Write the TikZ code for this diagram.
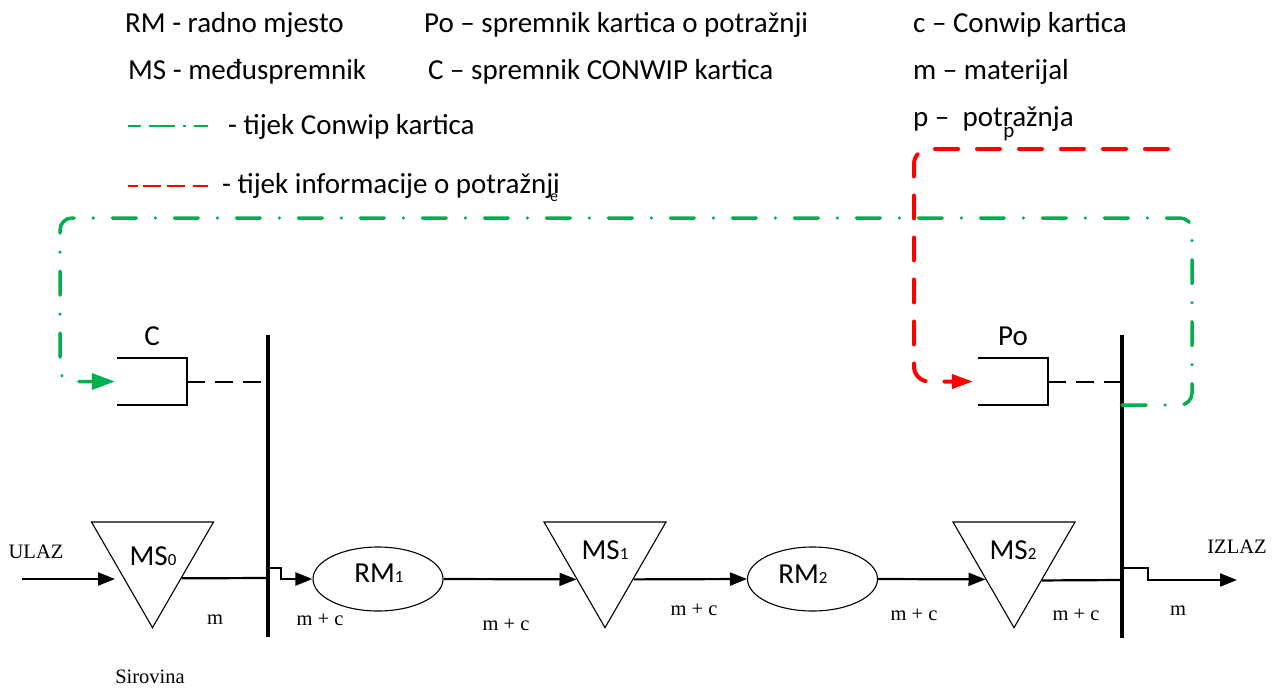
\documentclass[tikz,border=0pt]{standalone}
\usepackage{fontspec}
\setmainfont{Carlito}
\newfontfamily\serifface{Liberation Serif}
\usetikzlibrary{arrows.meta,shapes.geometric,calc}
\definecolor{cwgreen}{RGB}{0,176,80}
\definecolor{pored}{RGB}{255,0,0}

\begin{document}
\begin{tikzpicture}[x=1pt,y=-1pt,
  legendtxt/.style={anchor=base west, inner sep=0, font=\fontsize{29}{30}\selectfont},
  boxlbl/.style={inner sep=0, font=\fontsize{29}{30}\selectfont},
  flowlbl/.style={inner sep=0, font=\serifface\fontsize{20.5}{22}\selectfont},
  strayglyph/.style={inner sep=0, anchor=north},
  buffer/.style={regular polygon, regular polygon sides=3, shape border rotate=180,
    minimum size=140.9pt, inner sep=0, draw, line width=1.1pt},
  bufferlbl/.style={inner sep=0, font=\fontsize{29}{30}\selectfont},
  station/.style={ellipse, minimum width=130pt, minimum height=64pt, inner sep=0,
    draw, line width=1.1pt},
  cardbox/.style={minimum width=70pt, minimum height=47pt, inner sep=0},
  bracket/.style={line width=2pt},
  bar/.style={line width=4pt},
  matline/.style={line width=2.2pt},
  flow/.style={line width=2.2pt, -{Triangle[length=17pt,width=13pt]}},
  cardlink/.style={line width=2pt, dash pattern=on 18pt off 10pt},
  conwip/.style={draw=cwgreen, line width=3.5pt, rounded corners=12pt, line cap=round,
    dash pattern=on 24pt off 19pt on 0.01pt off 19pt,
    -{Triangle[length=23pt,width=16pt,fill=cwgreen,line cap=butt]}},
  demand/.style={draw=pored, line width=4pt, rounded corners=15pt, line cap=round,
    dash pattern=on 23pt off 19pt,
    -{Triangle[length=21pt,width=14pt,fill=pored,line cap=butt]}},
  greenkey/.style={draw=cwgreen, line width=2.5pt,
    dash pattern=on 13pt off 8pt on 26pt off 8pt on 2.5pt off 8pt on 15pt},
  redkey/.style={draw=pored, line width=2.5pt,
    dash pattern=on 10pt off 5pt on 18pt off 6pt on 18pt off 8pt on 15pt}
]
\useasboundingbox (0,0) rectangle (1281,688);

% ---------- legend ----------
\node[legendtxt] (kRM) at (125,32) {RM - radno mjesto};
\node[legendtxt] (kPo) at (424,32) {Po – spremnik kartica o potražnji};
\node[legendtxt] (kc)  at (913,32) {c – Conwip kartica};
\node[legendtxt] (kMS) at (128,79) {MS - međuspremnik};
\node[legendtxt] (kC)  at (428,79) {C – spremnik CONWIP kartica};
\node[legendtxt] (km)  at (913,79) {m – materijal};
\node[legendtxt, text depth=0pt] (kp) at (913,126) {p – \ potražnja};
\node[strayglyph, font=\fontsize{21}{21}\selectfont, text height=10pt]
  (kpsub) at (1009,127.5) {p};

\coordinate (gkA) at (128,126);
\coordinate (gkB) at (208,126);
\draw[greenkey] (gkA) -- (gkB);
\node[legendtxt] (kgreen) at (228,134) {- tijek Conwip kartica};

\coordinate (rkA) at (128,186);
\coordinate (rkB) at (208,186);
\draw[redkey] (rkA) -- (rkB);
\node[legendtxt, text depth=0pt] (kred) at (222,193) {- tijek informacije o potražnji};
\node[strayglyph, font=\fontsize{16}{16}\selectfont, text height=7.5pt]
  (kesub) at (554,194) {e};

% ---------- vertical synchronisation bars ----------
\coordinate (b1t) at (268,335);
\coordinate (b1b) at (268,637);
\coordinate (b2t) at (1122,335);
\coordinate (b2b) at (1122,638);
\draw[bar] (b1t) -- (b1b);
\draw[bar] (b2t) -- (b2b);

% ---------- card buffers ----------
\node[cardbox] (cbox)  at (152,381.5) {};
\node[cardbox] (pobox) at (1013,381.5) {};
\draw[bracket] (cbox.north west) -- (cbox.north east) -- (cbox.south east) -- (cbox.south west);
\draw[bracket] (pobox.north west) -- (pobox.north east) -- (pobox.south east) -- (pobox.south west);
\node[boxlbl] (cLbl)  at (152,336) {C};
\node[boxlbl] (poLbl) at (1013,336) {Po};

\coordinate (b1dash) at (268,381.5);
\coordinate (b2dash) at (1122,381.5);
\draw[cardlink] (cbox.east) -- (b1dash);
\draw[cardlink] (pobox.east) -- (b2dash);

% ---------- buffers and work stations ----------
\node[buffer] (ms0) at (152.5,557.2) {};
\node[buffer] (ms1) at (605,557.2) {};
\node[buffer] (ms2) at (1014,557.2) {};
\node[bufferlbl] (ms0t) at (153,556) {MS{\fontsize{17}{17}\selectfont 0}};
\node[bufferlbl] (ms1t) at (605,550) {MS{\fontsize{17}{17}\selectfont 1}};
\node[bufferlbl] (ms2t) at (1013,550) {MS{\fontsize{17}{17}\selectfont 2}};

\node[station] (rm1) at (378,579) {};
\node[station] (rm2) at (812.5,579) {};
\node[bufferlbl] (rm1t) at (379,573) {RM{\fontsize{17}{17}\selectfont 1}};
\node[bufferlbl] (rm2t) at (803,574) {RM{\fontsize{17}{17}\selectfont 2}};

% ---------- material flow ----------
\coordinate (inA) at (22,579);
\coordinate (inB) at (115,579);
\draw[flow] (inA) -- (inB);

\coordinate (b1in)  at (268,578);
\coordinate (b1out) at (268,568);
\draw[matline] ($(ms0.corner 2)!0.53!(ms0.corner 1)$) -- (b1in);
\draw[flow] (b1out) -- (281,568) -- (281,579) -- (rm1.west);

\draw[flow] (rm1.east) -- ($(ms1.corner 3)!0.54!(ms1.corner 1)$);
\draw[flow] ($(ms1.corner 2)!0.54!(ms1.corner 1)$) -- (rm2.west);
\draw[flow] (rm2.east) -- ($(ms2.corner 3)!0.54!(ms2.corner 1)$);

\coordinate (b2in)  at (1122,580);
\coordinate (b2out) at (1122,568);
\coordinate (outB)  at (1237,580);
\draw[matline] ($(ms2.corner 2)!0.55!(ms2.corner 1)$) -- (b2in);
\draw[flow] (b2out) -- (1148,568) -- (1148,580) -- (outB);

% ---------- flow labels ----------
\node[flowlbl] (ulaz)  at (36,552) {ULAZ};
\node[flowlbl] (izlaz) at (1237,547) {IZLAZ};
\node[flowlbl] (sirov) at (150,677) {Sirovina};
\node[flowlbl] (f1) at (215,620) {m};
\node[flowlbl] (f2) at (320,620) {m + c};
\node[flowlbl] (f3) at (506,625) {m + c};
\node[flowlbl] (f4) at (694,610) {m + c};
\node[flowlbl] (f5) at (914,615) {m + c};
\node[flowlbl] (f6) at (1076,615) {m + c};
\node[flowlbl] (f7) at (1178,611) {m};

% ---------- card loops ----------
\coordinate (b2card) at (1122,405);
\coordinate (g1) at (1192,405);
\coordinate (g2) at (1192,218);
\coordinate (g3) at (60,218);
\coordinate (g4) at (60,381.5);
\draw[conwip, shorten >=2pt] (b2card) -- (g1) -- (g2) -- (g3) -- (g4) -- (cbox.west);

\coordinate (r0) at (1168,149);
\coordinate (r1) at (914,149);
\coordinate (r2) at (914,381.5);
\draw[demand, shorten >=5pt] (r0) -- (r1) -- (r2) -- (pobox.west);
\end{tikzpicture}
\end{document}
